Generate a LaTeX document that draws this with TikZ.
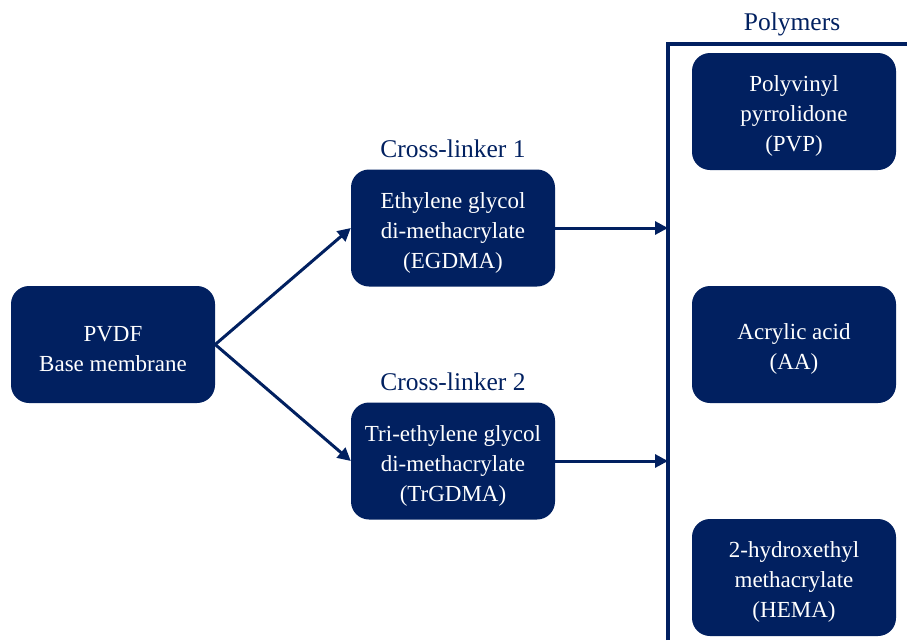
\documentclass[tikz,border=0pt]{standalone}
\usepackage{fontspec}
\setmainfont{Liberation Serif}
\usetikzlibrary{arrows.meta}
\definecolor{navy}{RGB}{1,32,96}
\newcommand\topstrut{\rule{0pt}{25pt}}
\begin{document}
\begin{tikzpicture}[x=1pt,y=-1pt,
  box/.style={fill=navy, rounded corners=18pt, minimum width=204pt, minimum height=117pt,
    inner sep=0pt, align=center, text=white, font=\fontsize{23}{30}\selectfont},
  lbl/.style={text=navy, font=\fontsize{25.5}{30}\selectfont, inner sep=0pt},
  conn/.style={draw=navy, line width=3pt, -{Triangle[length=13pt,width=13pt]}}
]
\useasboundingbox (0,0) rectangle (907,640);
\node[box] (pvdf) at (113,344.5) {\topstrut PVDF\\Base membrane};
\node[box] (eg) at (453,228) {\topstrut Ethylene glycol\\di-methacrylate\\(EGDMA)};
\node[box] (tr) at (453,461) {\topstrut Tri-ethylene glycol\\di-methacrylate\\(TrGDMA)};
\node[box] (pvp) at (794,111.5) {\topstrut Polyvinyl\\pyrrolidone\\(PVP)};
\node[box] (aa) at (794,344.5) {\topstrut Acrylic acid\\(AA)};
\node[box] (hema) at (794,577.5) {\topstrut 2-hydroxethyl\\methacrylate\\(HEMA)};
\node[lbl] (cl1) at (453,149) {Cross-linker 1};
\node[lbl] (cl2) at (453,382) {Cross-linker 2};
\node[lbl] (poly) at (792,24) {Polymers};
\coordinate (btop) at (668,44);
\coordinate (bright) at (907,44);
\coordinate (bbot) at (668,640);
\coordinate (t1) at (668,228);
\coordinate (t2) at (668,461);
\draw[navy, line width=3.5pt] (bbot) -- (btop) -- (bright);
\draw[conn] (pvdf.east) -- (eg.west);
\draw[conn] (pvdf.east) -- (tr.west);
\draw[conn] (eg.east) -- (t1);
\draw[conn] (tr.east) -- (t2);
\end{tikzpicture}
\end{document}
